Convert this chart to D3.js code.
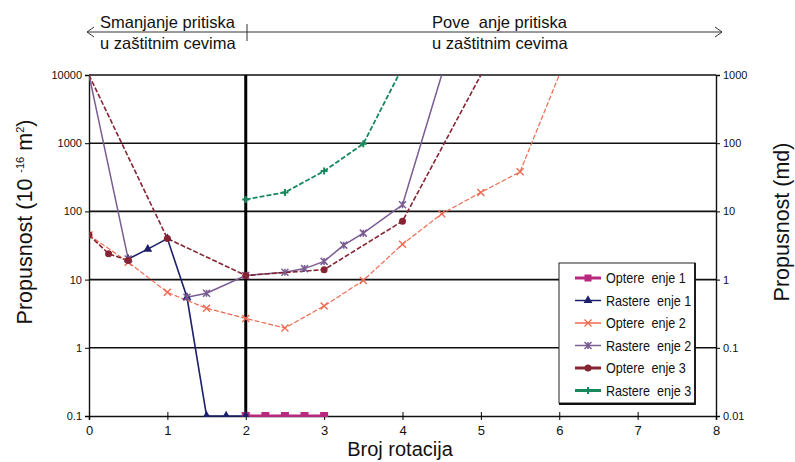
<!DOCTYPE html>
<html>
<head>
<meta charset="utf-8">
<script src="https://cdn.jsdelivr.net/npm/d3@7"></script>
<style>
  body { margin: 0; background: #fff; }
  text { font-family: "Liberation Sans", Arial, sans-serif; fill: #111; }
</style>
</head>
<body>
<script>
// Data (x = broj rotacija, y = propusnost 10^-16 m2)
const seriesNames = ["Optere  enje 1", "Rastere  enje 1", "Optere  enje 2", "Rastere  enje 2", "Optere  enje 3", "Rastere  enje 3"];

const opt1X = [2, 2.25, 2.5, 2.75, 3];
const opt1Y = [0.1, 0.1, 0.1, 0.1, 0.1];

const ras1X = [0.5, 0.75, 1, 1.25, 1.5, 1.75, 2];
const ras1Y = [20, 28, 40, 5.5, 0.1, 0.1, 0.1];

const opt2X = [0, 0.5, 1, 1.5, 2, 2.5, 3, 3.5, 4, 4.5, 5, 5.5, 6];
const opt2Y = [45, 18, 6.5, 3.8, 2.7, 1.95, 4.1, 9.7, 33, 92, 190, 380, 10000];

const ras2X = [0, 0.5, null, 1.25, 1.5, 2, 2.5, 2.75, 3, 3.25, 3.5, 4, 4.5];
const ras2Y = [10000, 20, null, 5.5, 6.3, 11.5, 12.8, 14.5, 18.5, 32, 48, 125, 10000];

const opt3X = [0, 0.25, 0.5, null, 0, 1, 2, 3, 4, 5];
const opt3Y = [45, 24, 19, null, 10000, 40, 11.5, 14, 72, 10000];

const ras3X = [2, 2.5, 3, 3.5, 3.95];
const ras3Y = [150, 190, 390, 980, 10000];

const xTicks = [0, 1, 2, 3, 4, 5, 6, 7, 8];
const yTicksLeft = [0.1, 1, 10, 100, 1000, 10000];
const yTicksRight = [0.01, 0.1, 1, 10, 100, 1000];

const colors = ["#b8287e", "#1c1f6b", "#ee6a52", "#7a5c92", "#862434", "#16885c"];
const markers = ["square", "triangle", "x", "star", "circle", "plus"];
const dashes = [null, null, "5,2", null, "5,2", "5,2"];
const widths = [3, 1.6, 1.2, 1.5, 1.6, 1.8];

const allX = [opt1X, ras1X, opt2X, ras2X, opt3X, ras3X];
const allY = [opt1Y, ras1Y, opt2Y, ras2Y, opt3Y, ras3Y];
const series = seriesNames.map((name, i) => ({
  name, i,
  points: allX[i].map((x, j) => ({ x, y: allY[i][j] }))
}));

const W = 795, H = 462;
const svg = d3.select("body").append("svg").attr("width", W).attr("height", H);

const x = d3.scaleLinear().domain([0, 8]).range([89, 716]);
const y = d3.scaleLog().domain([0.1, 10000]).range([416, 75]);
const y2 = d3.scaleLog().domain([0.01, 1000]).range([416, 75]);

// horizontal gridlines
svg.append("g").selectAll("line")
  .data(yTicksLeft.filter(d => d > 0.1))
  .join("line")
  .attr("x1", x(0)).attr("x2", x(8))
  .attr("y1", d => y(d)).attr("y2", d => y(d))
  .attr("stroke", "#111").attr("stroke-width", 1.6);

// left axis
const gl = svg.append("g").attr("transform", `translate(${x(0)},0)`)
  .call(d3.axisLeft(y).tickValues(yTicksLeft).tickFormat(d3.format("")).tickSize(4).tickPadding(3));
gl.select(".domain").attr("stroke", "#111").attr("stroke-width", 1.4);
gl.selectAll("text").style("font-size", "11px");

// right axis
const gr = svg.append("g").attr("transform", `translate(${x(8)},0)`)
  .call(d3.axisRight(y2).tickValues(yTicksRight).tickFormat(d3.format("")).tickSize(4).tickPadding(3));
gr.select(".domain").attr("stroke", "#111").attr("stroke-width", 1.4);
gr.selectAll("text").style("font-size", "11px");

// bottom axis
const gb = svg.append("g").attr("transform", `translate(0,${y(0.1)})`)
  .call(d3.axisBottom(x).tickValues(xTicks).tickSize(4).tickPadding(6));
gb.select(".domain").attr("stroke", "#111").attr("stroke-width", 1.6);
gb.selectAll(".tick line").attr("y1", -4);
gb.selectAll("text").style("font-size", "13px");

// thick vertical line at 2 rotations
svg.append("line")
  .attr("x1", x(2)).attr("x2", x(2))
  .attr("y1", y(10000)).attr("y2", y(0.1))
  .attr("stroke", "#000").attr("stroke-width", 3);

// lines
svg.append("clipPath").attr("id", "plot")
  .append("rect").attr("x", x(0)).attr("y", y(10000) - 1)
  .attr("width", x(8) - x(0)).attr("height", y(0.1) - y(10000) + 2);

const line = d3.line()
  .defined(d => d.x !== null)
  .x(d => x(d.x)).y(d => y(d.y));

const plot = svg.append("g").attr("clip-path", "url(#plot)");

function drawMarker(g, type, color, s) {
  if (type === "square") {
    g.append("rect").attr("x", -s / 2).attr("y", -s / 2).attr("width", s).attr("height", s).attr("fill", color);
  } else if (type === "triangle") {
    g.append("path").attr("d", d3.symbol(d3.symbolTriangle, s * s * 0.7)()).attr("fill", color);
  } else if (type === "circle") {
    g.append("circle").attr("r", s / 2).attr("fill", color);
  } else if (type === "x") {
    g.append("path").attr("d", `M${-s / 2},${-s / 2}L${s / 2},${s / 2}M${-s / 2},${s / 2}L${s / 2},${-s / 2}`)
      .attr("stroke", color).attr("stroke-width", 1.4);
  } else if (type === "star") {
    g.append("path").attr("d", `M${-s / 2},${-s / 2}L${s / 2},${s / 2}M${-s / 2},${s / 2}L${s / 2},${-s / 2}M0,${-s / 2}L0,${s / 2}`)
      .attr("stroke", color).attr("stroke-width", 1.5);
  } else if (type === "plus") {
    g.append("path").attr("d", `M${-s / 2},0L${s / 2},0M0,${-s / 2}L0,${s / 2}`)
      .attr("stroke", color).attr("stroke-width", 2);
  }
}

series.forEach(s => {
  plot.append("path")
    .datum(s.points)
    .attr("d", line)
    .attr("fill", "none")
    .attr("stroke", colors[s.i])
    .attr("stroke-width", widths[s.i])
    .attr("stroke-dasharray", dashes[s.i]);
});

series.forEach(s => {
  s.points.filter(p => p.x !== null && p.y < 10000).forEach(p => {
    const g = plot.append("g").attr("transform", `translate(${x(p.x)},${y(p.y)})`);
    drawMarker(g, markers[s.i], colors[s.i], s.i === 0 ? 8 : 7);
  });
});

// legend
const lg = svg.append("g");
lg.append("rect").attr("x", 559).attr("y", 263).attr("width", 136).attr("height", 140)
  .attr("fill", "#fff").attr("stroke", "#222").attr("stroke-width", 1);
lg.append("path").attr("d", "M695,263L695,404L559,404").attr("fill", "none").attr("stroke", "#111").attr("stroke-width", 1.8);
seriesNames.forEach((name, i) => {
  const ly = 278 + i * 22.5;
  lg.append("line").attr("x1", 575).attr("x2", 601).attr("y1", ly).attr("y2", ly)
    .attr("stroke", colors[i]).attr("stroke-width", i === 0 || i === 4 || i === 5 ? 3 : 1.5);
  const g = lg.append("g").attr("transform", `translate(588,${ly})`);
  drawMarker(g, markers[i], colors[i], 7);
  lg.append("text")
    .attr("transform", `translate(606,${ly + 5}) scale(0.9,1)`)
    .style("font-size", "14px")
    .style("white-space", "pre")
    .text(name);
});

// axis titles
svg.append("text")
  .attr("x", 400).attr("y", 456)
  .attr("text-anchor", "middle")
  .style("font-size", "20px")
  .text("Broj rotacija");

const lt = svg.append("text")
  .attr("transform", `translate(32,222) rotate(-90)`)
  .attr("text-anchor", "middle")
  .style("font-size", "21.5px");
lt.append("tspan").text("Propusnost (10 ");
lt.append("tspan").attr("dy", -8).style("font-size", "11px").text("-16");
lt.append("tspan").attr("dy", 8).text(" m");
lt.append("tspan").attr("dy", -8).style("font-size", "11px").text("2");
lt.append("tspan").attr("dy", 8).text(")");

svg.append("text")
  .attr("transform", `translate(789,222) rotate(-90)`)
  .attr("text-anchor", "middle")
  .style("font-size", "21.5px")
  .text("Propusnost (md)");

// top annotation: pressure direction
svg.append("line").attr("x1", 87).attr("x2", 722).attr("y1", 32).attr("y2", 32)
  .attr("stroke", "#333").attr("stroke-width", 1);
svg.append("path").attr("d", "M94,27L87,32L94,37").attr("fill", "none").attr("stroke", "#333");
svg.append("path").attr("d", "M715,27L722,32L715,37").attr("fill", "none").attr("stroke", "#333");
svg.append("line").attr("x1", 247).attr("x2", 247).attr("y1", 24).attr("y2", 41)
  .attr("stroke", "#333").attr("stroke-width", 1);

const noteStyle = t => t.style("font-size", "16.5px").style("white-space", "pre");
noteStyle(svg.append("text").attr("x", 100).attr("y", 28).text("Smanjanje pritiska"));
noteStyle(svg.append("text").attr("x", 100).attr("y", 49).text("u zaštitnim cevima"));
noteStyle(svg.append("text").attr("x", 432).attr("y", 28).text("Pove  anje pritiska"));
noteStyle(svg.append("text").attr("x", 432).attr("y", 49).text("u zaštitnim cevima"));
</script>
</body>
</html>
